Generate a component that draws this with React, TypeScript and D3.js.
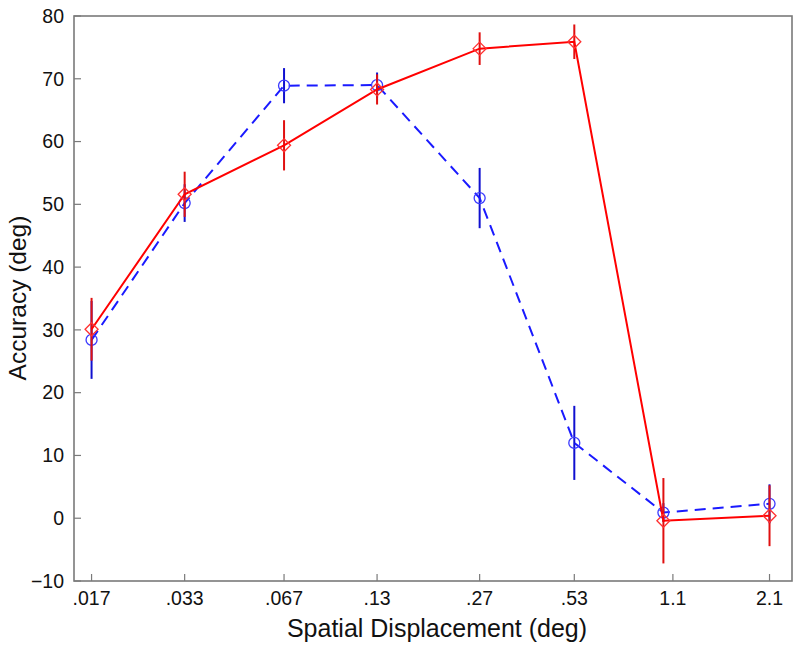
import React from "react";
import * as d3 from "d3";

const tickValues = [0.017, 0.033, 0.067, 0.13, 0.27, 0.53, 1.07, 2.13];
const tickLabels = [".017", ".033", ".067", ".13", ".27", ".53", "1.1", "2.1"];
const xData = [0.017, 0.033, 0.067, 0.13, 0.27, 0.53, 1.0, 2.13];

const redMean = [30.1, 51.6, 59.4, 68.3, 74.8, 75.9, -0.4, 0.4];
const redErr = [5.0, 3.6, 4.0, 2.4, 2.6, 2.75, 6.8, 4.85];
const blueMean = [28.4, 50.2, 68.9, 69.0, 51.0, 12.0, 0.9, 2.3];
const blueErr = [6.2, 3.0, 2.8, 2.0, 4.8, 5.9, 1.5, 3.1];

const yTicks = [-10, 0, 10, 20, 30, 40, 50, 60, 70, 80];

const W = 800;
const H = 650;
const left = 74;
const right = 792;
const top = 16;
const bottom = 581;

export default function App() {
  const x = d3.scaleLog().domain([0.015, 2.5]).range([left, right]);
  const y = d3.scaleLinear().domain([-10, 80]).range([bottom, top]);
  const line = d3
    .line<number>()
    .x((_, i) => x(xData[i]))
    .y((d) => y(d));
  const font = "'Liberation Sans', Arial, Helvetica, sans-serif";
  const axisColor = "#7a7a7a";

  const diamond = (cx: number, cy: number, s: number) =>
    `M${cx},${cy - s}L${cx + s},${cy}L${cx},${cy + s}L${cx - s},${cy}Z`;

  return (
    <svg
      width={W}
      height={H}
      style={{ position: "absolute", left: 0, top: 0, background: "#fff" }}
    >
      <rect x={0} y={0} width={W} height={H} fill="#fff" />
      {/* axis box */}
      <rect
        x={left}
        y={top}
        width={right - left}
        height={bottom - top}
        fill="none"
        stroke={axisColor}
        strokeWidth={1.6}
      />
      {/* y ticks */}
      {yTicks.map((t) => (
        <g key={"y" + t}>
          <line
            x1={left}
            x2={left + 7}
            y1={y(t)}
            y2={y(t)}
            stroke={axisColor}
            strokeWidth={1.2}
          />
          <text
            x={left - 10}
            y={y(t)}
            dy="0.35em"
            textAnchor="end"
            fontFamily={font}
            fontSize={19.5}
            fill="#111"
          >
            {t < 0 ? "\u2212" + Math.abs(t) : t}
          </text>
        </g>
      ))}
      {/* x ticks */}
      {tickValues.map((t, i) => (
        <g key={"x" + i}>
          <line
            x1={x(t)}
            x2={x(t)}
            y1={bottom}
            y2={bottom - 7}
            stroke={axisColor}
            strokeWidth={1.2}
          />
          <text
            x={x(t)}
            y={bottom + 24}
            textAnchor="middle"
            fontFamily={font}
            fontSize={19.5}
            fill="#111"
          >
            {tickLabels[i]}
          </text>
        </g>
      ))}
      {/* axis titles */}
      <text
        x={437}
        y={637}
        textAnchor="middle"
        fontFamily={font}
        fontSize={25}
        fill="#111"
      >
        Spatial Displacement (deg)
      </text>
      <text
        transform={`translate(26,298) rotate(-90)`}
        textAnchor="middle"
        fontFamily={font}
        fontSize={24.5}
        fill="#111"
      >
        Accuracy (deg)
      </text>

      {/* blue series */}
      <g>
        {blueMean.map((m, i) => (
          <line
            key={"be" + i}
            x1={x(xData[i])}
            x2={x(xData[i])}
            y1={y(m - blueErr[i])}
            y2={y(m + blueErr[i])}
            stroke="#1010d0"
            strokeWidth={2}
          />
        ))}
        <path
          d={line(blueMean) || ""}
          fill="none"
          stroke="#1a1aff"
          strokeWidth={2}
          strokeDasharray="11,7"
        />
        {blueMean.map((m, i) => (
          <circle
            key={"bc" + i}
            cx={x(xData[i])}
            cy={y(m)}
            r={5.5}
            fill="none"
            stroke="#3a3aff"
            strokeWidth={1.3}
          />
        ))}
      </g>

      {/* red series */}
      <g>
        {redMean.map((m, i) => (
          <line
            key={"re" + i}
            x1={x(xData[i])}
            x2={x(xData[i])}
            y1={y(m - redErr[i])}
            y2={y(m + redErr[i])}
            stroke="#e01010"
            strokeWidth={2}
          />
        ))}
        <path
          d={line(redMean) || ""}
          fill="none"
          stroke="#ff0000"
          strokeWidth={2}
        />
        {redMean.map((m, i) => (
          <path
            key={"rd" + i}
            d={diamond(x(xData[i]), y(m), 6.5)}
            fill="none"
            stroke="#ff3030"
            strokeWidth={1.3}
          />
        ))}
      </g>
    </svg>
  );
}
